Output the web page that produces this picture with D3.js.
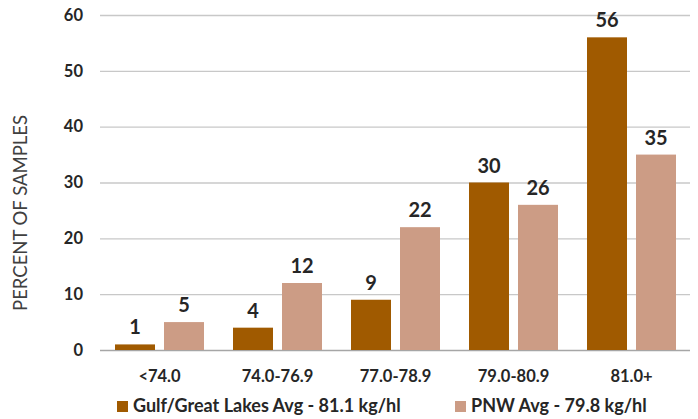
<!DOCTYPE html>
<html><head><meta charset="utf-8">
<script src="https://cdn.jsdelivr.net/npm/d3@7"></script>
<style>body{margin:0;background:#fff;} svg{display:block;font-family:Lato,'Open Sans',sans-serif;}</style>
</head><body>
<svg id="c" width="698" height="419"></svg>
<script>
const categories = ["<74.0","74.0-76.9","77.0-78.9","79.0-80.9","81.0+"];
const seriesNames = ["Gulf/Great Lakes Avg - 81.1 kg/hl","PNW Avg - 79.8 kg/hl"];
const gulfValues = [1,4,9,30,56];
const pnwValues = [5,12,22,26,35];
const yTicks = [0,10,20,30,40,50,60];
const colors = ["#A05A00","#CC9C85"];
const FONT = "Lato, 'Open Sans', sans-serif";

const svg = d3.select("#c");
const x = d3.scaleBand().domain(categories).range([100.5,690.5]).paddingInner(0).paddingOuter(0);
const y = d3.scaleLinear().domain([0,60]).range([350,15]);
const barW = 40, gap = 9;
const sub = d3.scaleBand().domain([0,1]).range([0,barW*2+gap]).paddingInner(gap/(barW+gap));

// gridlines
svg.append("g").selectAll("line").data(yTicks).join("line")
  .attr("x1",100).attr("x2",690).attr("y1",d=>y(d)+0.5).attr("y2",d=>y(d)+0.5)
  .attr("stroke",d=>d===0?"#a6a6a6":"#c8c8c8").attr("stroke-width",1.3);

// y axis labels
const yAxis = d3.axisLeft(y).tickValues(yTicks).tickSize(0).tickPadding(0);
const ga = svg.append("g").attr("transform","translate(83,0)").call(yAxis);
ga.select(".domain").remove();
ga.selectAll("text").attr("font-size",16.5).attr("font-weight","bold").attr("fill","#262626")
  .attr("font-family",FONT);

svg.append("text").attr("transform","translate(27,213) rotate(-90)")
  .attr("text-anchor","middle").attr("font-size",18.5).attr("fill","#404040")
  .text("PERCENT OF SAMPLES");

const series = [gulfValues,pnwValues];
series.forEach((vals,si)=>{
  const off = (x.bandwidth() - (barW*2+gap))/2;
  const g = svg.append("g");
  g.selectAll("rect").data(vals).join("rect")
    .attr("x",(d,i)=>x(categories[i])+off+sub(si))
    .attr("width",sub.bandwidth())
    .attr("y",d=>y(d)).attr("height",d=>y(0)-y(d))
    .attr("fill",colors[si]);
  g.selectAll("text").data(vals).join("text")
    .attr("x",(d,i)=>x(categories[i])+off+sub(si)+sub.bandwidth()/2)
    .attr("y",d=>y(d)-10)
    .attr("text-anchor","middle").attr("font-size",20).attr("font-weight","bold").attr("fill","#262626")
    .text(d=>d);
});

// x axis labels
const xAxis = d3.axisBottom(x).tickSize(0).tickPadding(0);
const gx = svg.append("g").attr("transform","translate(0,382)").call(xAxis);
gx.select(".domain").remove();
gx.selectAll("text").attr("font-size",16.5).attr("font-weight","bold").attr("fill","#262626")
  .attr("font-family",FONT).attr("dy",0);

// legend
const legX = [117,455];
seriesNames.forEach((n,i)=>{
  svg.append("rect").attr("x",legX[i]).attr("y",401).attr("width",11).attr("height",11).attr("fill",colors[i]);
  svg.append("text").attr("x",legX[i]+16).attr("y",412).attr("font-size",18).attr("font-weight","bold")
    .attr("fill","#262626").text(n);
});
</script>
</body></html>
